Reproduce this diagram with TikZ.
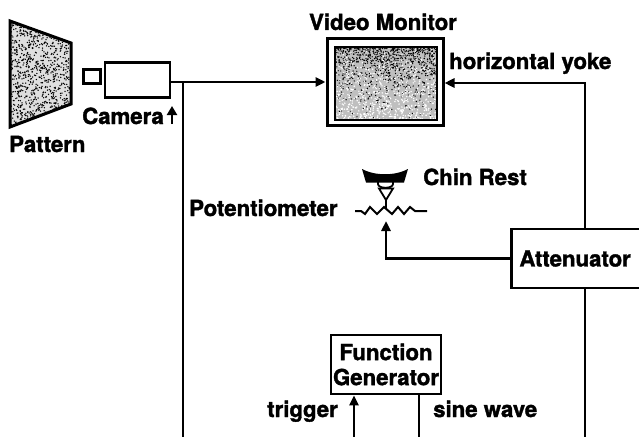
\documentclass[tikz,border=0pt]{standalone}
\usepackage{fontspec}
\setmainfont{TeX Gyre Heros}[BoldFeatures={FakeBold=1.6}]
\usetikzlibrary{arrows.meta}
\begin{document}
\begin{tikzpicture}[x=1pt,y=-1pt,
  lbl/.style={font=\fontsize{22.2}{25}\selectfont\bfseries, inner sep=0pt},
  box/.style={draw, line width=2.8pt, inner sep=0pt},
  wire/.style={line width=2.6pt},
  arr/.style={line width=2.6pt, -{Triangle[length=10pt,width=9pt]}}]
\useasboundingbox (0,0) rectangle (639,436);
% Pattern
\begin{scope}
  \clip (10,21) -- (71,43) -- (71,104) -- (10,127) -- cycle;
  \fill[gray!25] (0,0) rectangle (80,130);
  \pgfmathsetseed{7}
  \foreach \i in {1,...,1100} {\fill[black] ({8+64*rnd},{20+108*rnd}) circle (0.75pt);}
\end{scope}
\draw[line width=3pt, line join=miter] (10,21) -- (71,43) -- (71,104) -- (10,127) -- cycle;
\node[lbl, anchor=base west] (patl) at (9,152) {Pattern};
% Camera
\node[box, line width=2.6pt, minimum width=17pt, minimum height=14pt] (lens) at (92,76.5) {};
\node[box, minimum width=65pt, minimum height=35pt] (cam) at (137.5,80) {};
\node[lbl, anchor=base west] (caml) at (82,124) {Camera};
\coordinate (cua) at (172,124);
\coordinate (cub) at (172,106);
\draw[line width=2.8pt, -{Triangle[length=9pt,width=10pt]}] (cua) -- (cub);
% Monitor
\node[box, line width=3pt, minimum width=116pt, minimum height=86pt] (mon) at (385,82) {};
\begin{scope}
  \clip (335,47) rectangle (437,120);
  \fill[gray!50] (335,47) rectangle (437,120);
  \pgfmathsetseed{3}
  \foreach \i in {1,...,1100} {\fill[black] ({334+104*rnd},{46+75*rnd*rnd}) circle (0.7pt);}
  \foreach \i in {1,...,700} {\fill[white] ({334+104*rnd},{46+75*sqrt(rnd)}) circle (0.8pt);}
\end{scope}
\node[draw, line width=2.6pt, minimum width=102pt, minimum height=73pt, inner sep=0pt] (scr) at (386,83.5) {};
\node[lbl, anchor=base] (monl) at (383,30) {Video Monitor};
\node[lbl, anchor=base west] (yokel) at (449,69) {horizontal yoke};
% Camera to monitor
\coordinate (cj) at (183,82);
\draw[arr] (cam.east |- cj) -- (mon.west |- cj);
\draw[wire] (cj) -- (183,437);
% Attenuator
\node[box, lbl, anchor=west, minimum height=59pt, text width=136pt, inner xsep=8pt, align=left, draw, line width=2.8pt] (att) at (510,258.5) {Attenuator};
\coordinate (yk) at (585,83);
\draw[arr] (yk |- att.north) -- (yk) -- (mon.east |- yk);
\draw[wire] (yk |- att.south) -- (585,437);
% Potentiometer and chin rest
\draw[line width=2pt, line join=miter] (355,211) -- (361,211) -- (365,214) -- (370,207) -- (377,214) -- (384,207) -- (392,214) -- (398,207) -- (404,214) -- (410,207) -- (415,211) -- (427,211);
\fill (362,169) .. controls (375,176) and (395,176) .. (408,169) -- (404,182.5) -- (366,182.5) -- cycle;
\draw[line width=1.8pt] (378,182) -- (378,184) .. controls (378,189) and (393,189) .. (393,184) -- (393,182);
\draw[line width=1.8pt, line join=miter] (379,188.5) -- (393,188.5) -- (386,200) -- cycle;
\draw[line width=2.2pt] (386,200) -- (386,209);
\node[lbl, anchor=base west] (chinl) at (423,185) {Chin Rest};
\node[lbl, anchor=base west] (potl) at (189,216) {Potentiometer};
\coordinate (wip) at (386,221);
\draw[arr] (att.west) -| (wip);
% Function generator
\node[box, lbl, minimum width=110pt, minimum height=59pt, align=center, draw, line width=2.8pt, font=\fontsize{22.2}{25}\selectfont\bfseries] (fg) at (386,364.5) {Function\\Generator};
\coordinate (trg) at (354,437);
\coordinate (sin) at (419,437);
\draw[arr] (trg) -- (trg |- fg.south);
\draw[wire] (sin |- fg.south) -- (sin);
\node[lbl, anchor=base east] (trgl) at (338,417) {trigger};
\node[lbl, anchor=base west] (sinl) at (433,417) {sine wave};
\end{tikzpicture}
\end{document}
